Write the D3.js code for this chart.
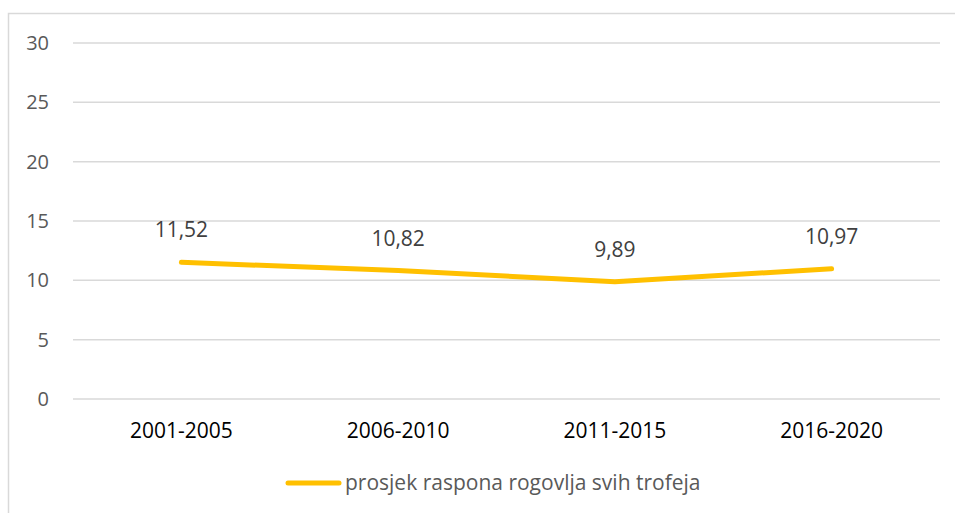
<!DOCTYPE html>
<html>
<head>
<meta charset="utf-8">
<script src="https://cdn.jsdelivr.net/npm/d3@7"></script>
<style>
  body { margin: 0; background: #fff; }
  svg { display: block; font-family: "Open Sans", sans-serif; }
</style>
</head>
<body>
<svg id="chart" width="955" height="513"></svg>
<script>
// chart data
const categories = ["2001-2005", "2006-2010", "2011-2015", "2016-2020"];
const values = [11.52, 10.82, 9.89, 10.97];
const valueLabels = ["11,52", "10,82", "9,89", "10,97"];
const yTicks = [0, 5, 10, 15, 20, 25, 30];
const seriesName = "prosjek raspona rogovlja svih trofeja";

const svg = d3.select("#chart");
const lineColor = "#FFC000";

// chart frame (cut off at right and bottom like the original)
svg.append("rect")
    .attr("x", 8.5)
    .attr("y", 13.5)
    .attr("width", 960)
    .attr("height", 520)
    .attr("fill", "none")
    .attr("stroke", "#d9d9d9")
    .attr("stroke-width", 1.5);

const plot = {left: 73, right: 940, top: 43, bottom: 399};

const x = d3.scaleBand()
    .domain(categories)
    .range([plot.left, plot.right]);

const y = d3.scaleLinear()
    .domain([0, 30])
    .range([plot.bottom, plot.top]);

// gridlines
svg.append("g")
    .selectAll("line")
    .data(yTicks)
    .enter()
    .append("line")
    .attr("x1", plot.left)
    .attr("x2", plot.right)
    .attr("y1", d => y(d))
    .attr("y2", d => y(d))
    .attr("stroke", "#d9d9d9")
    .attr("stroke-width", 1.5);

// y axis labels
svg.append("g")
    .selectAll("text")
    .data(yTicks)
    .enter()
    .append("text")
    .attr("x", 49)
    .attr("y", d => y(d))
    .attr("dy", "0.35em")
    .attr("text-anchor", "end")
    .attr("font-size", "20px")
    .attr("fill", "#595959")
    .text(d => d);

// x axis labels
svg.append("g")
    .selectAll("text")
    .data(categories)
    .enter()
    .append("text")
    .attr("x", d => x(d) + x.bandwidth() / 2)
    .attr("y", 438)
    .attr("text-anchor", "middle")
    .attr("font-size", "21px")
    .attr("fill", "#000")
    .text(d => d);

// line
const points = categories.map((c, i) => ({cat: c, value: values[i], label: valueLabels[i]}));

const line = d3.line()
    .x(d => x(d.cat) + x.bandwidth() / 2)
    .y(d => y(d.value));

svg.append("path")
    .datum(points)
    .attr("d", line)
    .attr("fill", "none")
    .attr("stroke", lineColor)
    .attr("stroke-width", 5)
    .attr("stroke-linecap", "round")
    .attr("stroke-linejoin", "round");

// data labels
svg.append("g")
    .selectAll("text")
    .data(points)
    .enter()
    .append("text")
    .attr("x", d => x(d.cat) + x.bandwidth() / 2)
    .attr("y", d => y(d.value) - 25)
    .attr("text-anchor", "middle")
    .attr("font-size", "21px")
    .attr("fill", "#404040")
    .text(d => d.label);

// legend
const legend = svg.append("g");
legend.append("line")
    .attr("x1", 288)
    .attr("x2", 339)
    .attr("y1", 483)
    .attr("y2", 483)
    .attr("stroke", lineColor)
    .attr("stroke-width", 5)
    .attr("stroke-linecap", "round");
legend.append("text")
    .attr("x", 345)
    .attr("y", 483)
    .attr("dy", "0.35em")
    .attr("font-size", "21px")
    .attr("fill", "#595959")
    .text(seriesName);
</script>
</body>
</html>
